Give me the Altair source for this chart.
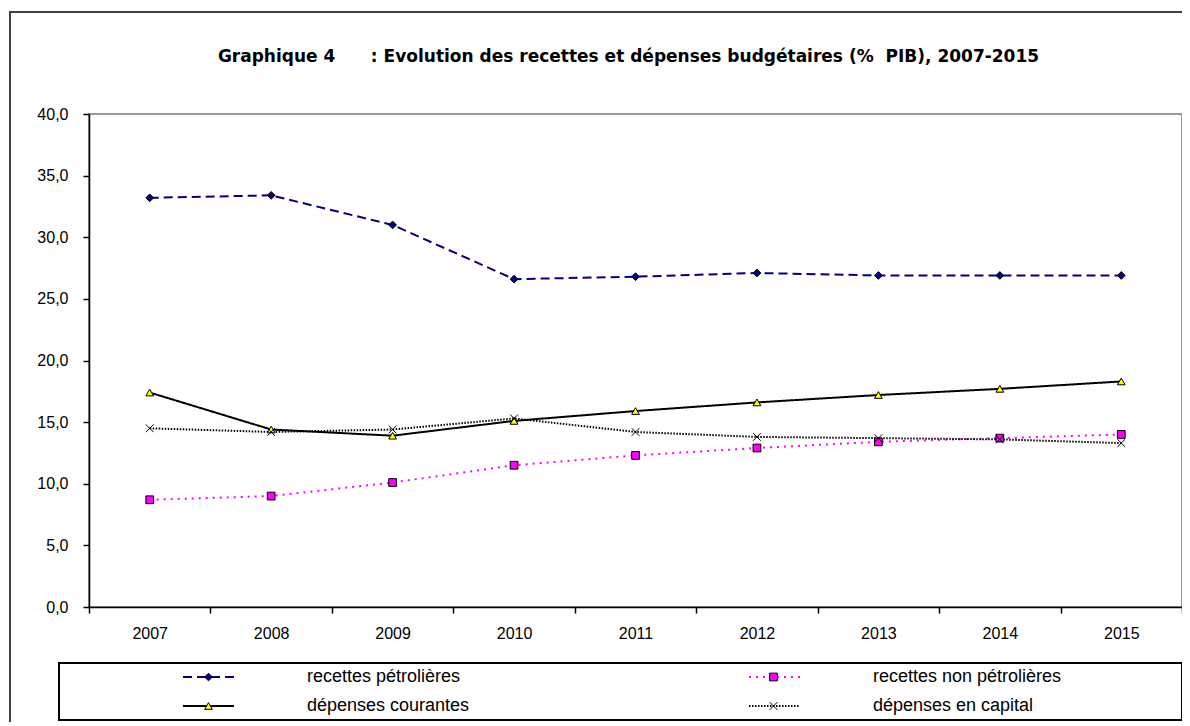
import altair as alt
import pandas as pd

FONT = "Liberation Sans"
TITLE_FONT = "DejaVu Sans"

years = ["2007", "2008", "2009", "2010", "2011", "2012", "2013", "2014", "2015"]
series_names = ["recettes pétrolières", "recettes non pétrolières",
                "dépenses courantes", "dépenses en capital"]
recettes_petrolieres = [33.2, 33.4, 31.0, 26.6, 26.8, 27.1, 26.9, 26.9, 26.9]
recettes_non_petrolieres = [8.7, 9.0, 10.1, 11.5, 12.3, 12.9, 13.4, 13.7, 14.0]
depenses_courantes = [17.4, 14.4, 13.9, 15.1, 15.9, 16.6, 17.2, 17.7, 18.3]
depenses_capital = [14.5, 14.2, 14.4, 15.3, 14.2, 13.8, 13.7, 13.6, 13.3]
y_ticks = [0, 5, 10, 15, 20, 25, 30, 35, 40]

title_text = "Graphique 4\u00a0\u00a0\u00a0\u00a0\u00a0 : Evolution des recettes et dépenses budgétaires (%\u00a0\u00a0PIB), 2007-2015"

line_colors = ["#000080", "#FF00FF", "#000000", "#000000"]
line_dashes = [[9, 5], [2, 5], [1, 0], [1.5, 1.5]]
line_widths = [2, 2, 1.5, 1]
marker_fills = ["#000080", "#FF00FF", "#FFFF00", "transparent"]
marker_strokes = ["#000000", "#000000", "#000000", "#000000"]
marker_shapes = ["diamond", "square", "triangle-up", "M-1,-1L1,1M-1,1L1,-1"]

PREFIX = "m_"
marker_names = [PREFIX + n for n in series_names]

values_by_series = [recettes_petrolieres, recettes_non_petrolieres,
                    depenses_courantes, depenses_capital]
rows = []
for name, vals in zip(series_names, values_by_series):
    for yr, v in zip(years, vals):
        rows.append({"annee": yr, "serie": name, "serie_m": PREFIX + name, "valeur": v})
df = pd.DataFrame(rows)

W, H = 1093, 493

x_enc = alt.X(
    "annee:O", sort=years,
    scale=alt.Scale(type="band", domain=years, paddingInner=0, paddingOuter=0),
    axis=alt.Axis(title=None, labelAngle=0, tickBand="extent", tickSize=6,
                  tickColor="black", tickWidth=1.5, domainColor="black",
                  domainWidth=1.5, labelFont=FONT, labelFontSize=16,
                  labelColor="black", labelPadding=12, grid=False),
)
y_enc = alt.Y(
    "valeur:Q",
    scale=alt.Scale(domain=[0, 40], nice=False, zero=True),
    axis=alt.Axis(title=None, values=y_ticks,
                  labelExpr="replace(format(datum.value, '.1f'), '.', ',')",
                  tickSize=6, tickColor="black", tickWidth=1.5,
                  domainColor="black", domainWidth=1.5, labelFont=FONT,
                  labelFontSize=16, labelColor="black", labelPadding=15,
                  grid=False),
)

leg_common = dict(orient="none", columns=2, direction="horizontal", title=None,
                  labelFont=FONT, labelFontSize=18, labelColor="black",
                  labelLimit=500, clipHeight=24, rowPadding=5, padding=0,
                  legendY=551)

# line legend (with labels)
legA = alt.Legend(legendX=93, symbolType="stroke", symbolSize=2601,
                  symbolStrokeWidth=1.5, labelOffset=72, columnPadding=278,
                  zindex=1, **leg_common)
# marker legend drawn over the line symbols (no labels)
legB = alt.Legend(legendX=110.5, symbolSize=60, symbolStrokeWidth=1,
                  labelOffset=0, labelExpr="''", columnPadding=547,
                  zindex=2, **leg_common)

base = alt.Chart(df)

lines = base.mark_line().encode(
    x=x_enc, y=y_enc,
    color=alt.Color("serie:N", scale=alt.Scale(domain=series_names, range=line_colors), legend=legA),
    strokeDash=alt.StrokeDash("serie:N", scale=alt.Scale(domain=series_names, range=line_dashes), legend=legA),
    strokeWidth=alt.StrokeWidth("serie:N", scale=alt.Scale(domain=series_names, range=line_widths), legend=None),
)

points = base.mark_point(filled=True, strokeWidth=1, size=60, opacity=1).encode(
    x=x_enc, y=y_enc,
    shape=alt.Shape("serie_m:N", scale=alt.Scale(domain=marker_names, range=marker_shapes), legend=legB),
    fill=alt.Fill("serie_m:N", scale=alt.Scale(domain=marker_names, range=marker_fills), legend=legB),
    stroke=alt.Stroke("serie_m:N", scale=alt.Scale(domain=marker_names, range=marker_strokes), legend=legB),
)

deco = pd.DataFrame({"k": [0]})
frame = alt.Chart(deco).mark_rect(fillOpacity=0, stroke="#404040", strokeWidth=2).encode(
    x=alt.value(-79), x2=alt.value(1111), y=alt.value(-102), y2=alt.value(640))
legend_box = alt.Chart(deco).mark_rect(fillOpacity=0, stroke="black", strokeWidth=2).encode(
    x=alt.value(-30), x2=alt.value(1093), y=alt.value(549), y2=alt.value(606))
title = alt.Chart(deco).mark_text(font=TITLE_FONT, fontSize=17, fontWeight="bold",
                                   color="black", align="center", baseline="middle").encode(
    x=alt.value(W / 2 - 7), y=alt.value(-57), text=alt.value(title_text))

chart = alt.layer(frame, legend_box, title, lines, points).properties(
    width=W, height=H,
    autosize=alt.AutoSizeParams(type="none"),
    padding={"left": 81, "top": 106, "right": 0, "bottom": 115},
).configure_view(stroke="#999999", strokeWidth=2)

chart.save("out.html", embed_options={"renderer": "svg", "actions": False})
